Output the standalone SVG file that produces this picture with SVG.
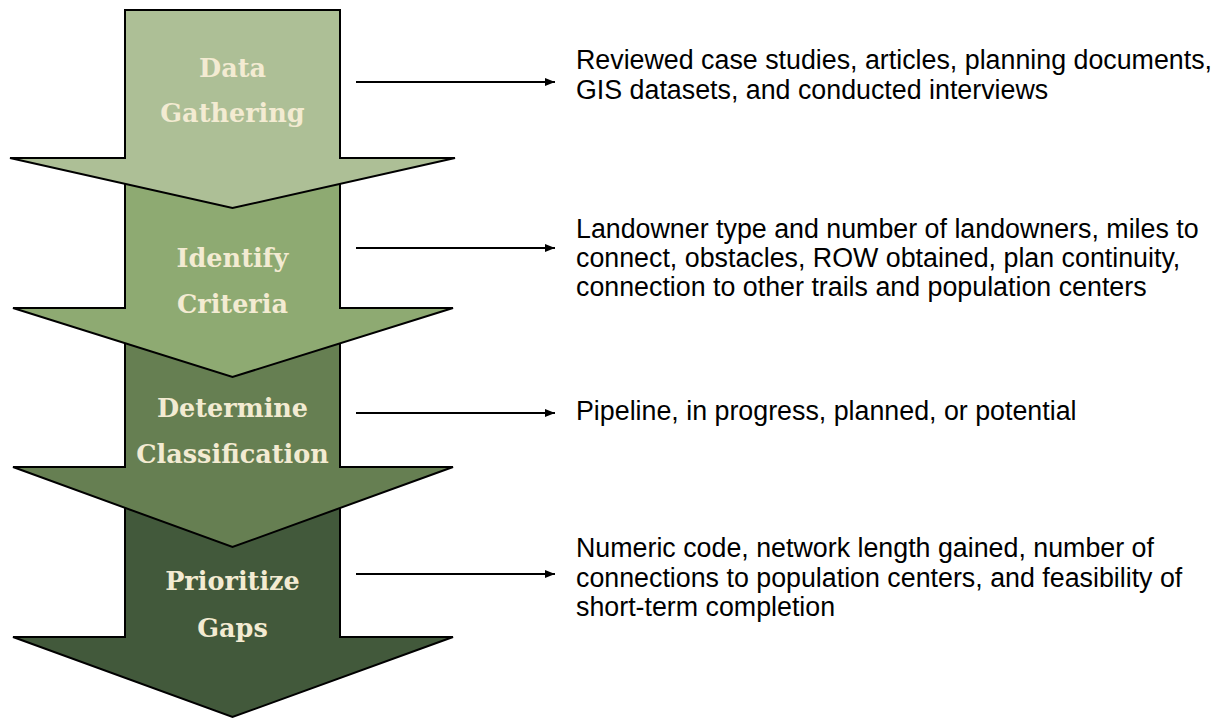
<svg xmlns="http://www.w3.org/2000/svg" width="1226" height="719" viewBox="0 0 1226 719">
  <defs>
    <style>
      .step { stroke: #000; stroke-width: 2; stroke-linejoin: miter; }
      .s1 { fill: #adbf96; }
      .s2 { fill: #8eaa72; }
      .s3 { fill: #667f52; }
      .s4 { fill: #42593b; }
      .label { font-family: "DejaVu Serif", "Liberation Serif", serif; font-weight: bold; font-size: 25.5px; fill: #f3ebd2; text-anchor: middle; }
      .desc { font-family: "Liberation Sans", Arial, sans-serif; font-size: 26.8px; fill: #000; }
      .link { stroke: #000; stroke-width: 2; fill: none; marker-end: url(#head); }
    </style>
    <marker id="head" viewBox="0 0 10 8" refX="10" refY="4" markerWidth="5" markerHeight="4" markerUnits="strokeWidth" orient="auto">
      <path d="M0,0 L10,4 L0,8 Z" fill="#000"/>
    </marker>
  </defs>

  <!-- process steps, drawn bottom-up so each head overlaps the next shaft -->
  <g id="step-prioritize">
    <path class="step s4" d="M125,470 L340,470 L340,637 L453,637 L232.5,717 L13,637 L125,637 Z"/>
    <text class="label" x="232.5" y="590">Prioritize</text>
    <text class="label" x="232.5" y="637">Gaps</text>
  </g>

  <g id="step-classification">
    <path class="step s3" d="M125,300 L340,300 L340,467 L453,467 L232.5,547 L13,467 L125,467 Z"/>
    <text class="label" x="232.5" y="417">Determine</text>
    <text class="label" x="232.5" y="463">Classification</text>
  </g>

  <g id="step-criteria">
    <path class="step s2" d="M125,150 L340,150 L340,308 L453,308 L232.5,377 L13,308 L125,308 Z"/>
    <text class="label" x="232.5" y="267">Identify</text>
    <text class="label" x="232.5" y="313">Criteria</text>
  </g>

  <g id="step-data">
    <path class="step s1" d="M125,10 L340,10 L340,158 L455,158 L232.5,208 L10,158 L125,158 Z"/>
    <text class="label" x="232.5" y="77">Data</text>
    <text class="label" x="232.5" y="122">Gathering</text>
  </g>

  <!-- connectors from each step to its description -->
  <g id="connectors">
    <line class="link" x1="356" y1="82" x2="555" y2="82"/>
    <line class="link" x1="356" y1="248" x2="555" y2="248"/>
    <line class="link" x1="356" y1="413" x2="555" y2="413"/>
    <line class="link" x1="356" y1="574" x2="555" y2="574"/>
  </g>

  <!-- descriptions -->
  <g id="desc-data">
    <text class="desc" x="576" y="69">Reviewed case studies, articles, planning documents,</text>
    <text class="desc" x="576" y="99">GIS datasets, and conducted interviews</text>
  </g>
  <g id="desc-criteria">
    <text class="desc" x="576" y="238">Landowner type and number of landowners, miles to</text>
    <text class="desc" x="576" y="267">connect, obstacles, ROW obtained, plan continuity,</text>
    <text class="desc" x="576" y="296">connection to other trails and population centers</text>
  </g>
  <g id="desc-classification">
    <text class="desc" x="576" y="420">Pipeline, in progress, planned, or potential</text>
  </g>
  <g id="desc-prioritize">
    <text class="desc" x="576" y="557">Numeric code, network length gained, number of</text>
    <text class="desc" x="576" y="587">connections to population centers, and feasibility of</text>
    <text class="desc" x="576" y="616">short-term completion</text>
  </g>
</svg>
